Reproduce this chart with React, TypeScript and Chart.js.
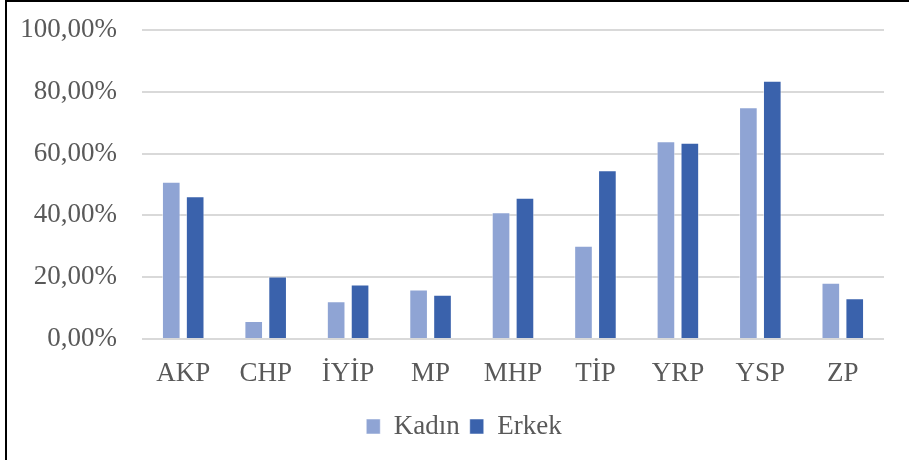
import React, { useEffect, useRef } from "react";
import { Chart, registerables } from "chart.js";

Chart.register(...registerables);

const categories = ["AKP", "CHP", "İYİP", "MP", "MHP", "TİP", "YRP", "YSP", "ZP"];
const kadin = [50.9, 5.8, 12.2, 16.0, 41.0, 30.2, 64.0, 75.0, 18.2];
const erkek = [46.2, 20.2, 17.6, 14.3, 45.7, 54.6, 63.5, 83.6, 13.2];
const seriesNames = ["Kadın", "Erkek"];

const FONT = '"Liberation Serif", "Times New Roman", serif';
const TEXT = "#595959";
const FS = 27;

const shiftLegend = {
  id: "shiftLegend",
  afterLayout(c: any) {
    if (c.legend) {
      c.legend.left += 22;
      c.legend.right += 22;
    }
  },
};

export default function App() {
  const ref = useRef<HTMLCanvasElement | null>(null);

  useEffect(() => {
    if (!ref.current) return;
    const chart = new Chart(ref.current, {
      type: "bar",
      data: {
        labels: categories,
        datasets: [
          {
            label: seriesNames[0],
            data: kadin,
            backgroundColor: "#8FA4D4",
            borderColor: "rgba(255,255,255,0.5)",
            borderWidth: 1,
            categoryPercentage: 0.58,
            barPercentage: 0.78,
          },
          {
            label: seriesNames[1],
            data: erkek,
            backgroundColor: "#3A62AC",
            borderColor: "rgba(255,255,255,0.5)",
            borderWidth: 1,
            categoryPercentage: 0.58,
            barPercentage: 0.78,
          },
        ],
      },
      plugins: [shiftLegend],
      options: {
        animation: false,
        responsive: true,
        maintainAspectRatio: false,
        layout: { padding: { top: 30, right: 25, bottom: 10, left: 0 } },
        plugins: {
          tooltip: { enabled: false },
          legend: {
            position: "bottom",
            labels: {
              boxWidth: 14,
              boxHeight: 15,
              padding: 10,
              color: TEXT,
              font: { family: FONT, size: FS },
            },
          },
        },
        scales: {
          x: {
            grid: { display: false },
            border: { display: false },
            ticks: {
              color: TEXT,
              font: { family: FONT, size: FS },
              padding: 11,
              maxRotation: 0,
            },
            afterFit: (s: any) => {
              const lg = s.chart.legend;
              const lh = lg ? lg.height : 0;
              s.height = 460 - 339 - lh - 10;
              s.paddingLeft = 0;
              s.paddingRight = 0;
            },
          },
          y: {
            min: 0,
            max: 100,
            ticks: {
              stepSize: 20,
              color: TEXT,
              font: { family: FONT, size: FS },
              padding: 25,
              callback: (v: any) => Number(v).toFixed(2).replace(".", ",") + "%",
            },
            grid: { color: "#D9D9D9", lineWidth: 2, drawTicks: false },
            border: { display: false },
            afterFit: (s: any) => {
              s.width = 142;
              s.paddingTop = 0;
              s.paddingBottom = 0;
            },
          },
        },
      },
    });
    return () => chart.destroy();
  }, []);

  return (
    <div style={{ position: "fixed", left: 0, top: 0, width: 909, height: 460, overflow: "hidden", background: "#fff" }}>
      <div style={{ position: "absolute", left: 0, top: 0, width: 909, height: 460 }}>
        <canvas ref={ref} />
      </div>
      <div
        style={{
          position: "absolute",
          left: 5,
          top: 0,
          width: 1000,
          height: 600,
          borderLeft: "2px solid #000",
          borderTop: "2px solid #000",
          pointerEvents: "none",
        }}
      />
    </div>
  );
}
